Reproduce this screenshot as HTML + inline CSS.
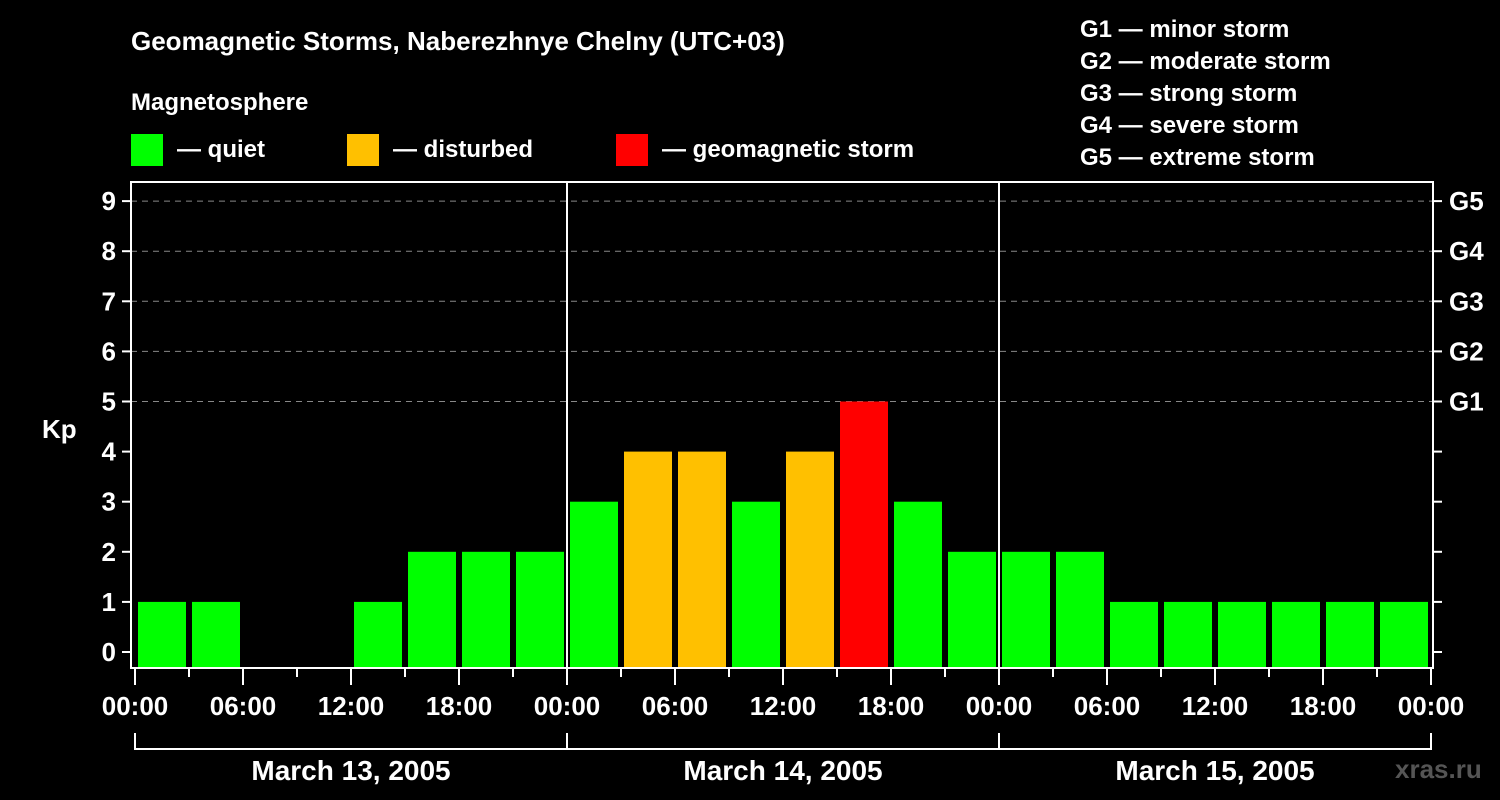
<!DOCTYPE html>
<html><head><meta charset="utf-8"><style>
html,body{margin:0;padding:0;background:#000;}
svg{display:block;font-family:"Liberation Sans",sans-serif;font-weight:bold;}
</style></head><body>
<svg id="chart" width="1500" height="800" viewBox="0 0 1500 800">
<rect width="1500" height="800" fill="#000"/>
<text x="131" y="50" fill="#fff" font-size="26">Geomagnetic Storms, Naberezhnye Chelny (UTC+03)</text>
<text x="131" y="110" fill="#fff" font-size="24">Magnetosphere</text>
<g><rect x="131" y="134" width="32" height="32" fill="#00ff00"/><text x="177" y="157" fill="#fff" font-size="24">— quiet</text></g>
<g><rect x="347" y="134" width="32" height="32" fill="#ffc000"/><text x="393" y="157" fill="#fff" font-size="24">— disturbed</text></g>
<g><rect x="616" y="134" width="32" height="32" fill="#ff0000"/><text x="662" y="157" fill="#fff" font-size="24">— geomagnetic storm</text></g>
<g fill="#fff" font-size="24">
<text x="1080" y="37">G1 — minor storm</text>
<text x="1080" y="69">G2 — moderate storm</text>
<text x="1080" y="101">G3 — strong storm</text>
<text x="1080" y="133">G4 — severe storm</text>
<text x="1080" y="165">G5 — extreme storm</text>
</g>
<text x="42" y="438" fill="#fff" font-size="26">Kp</text>
<text x="1395" y="778" fill="#555" font-size="26">xras.ru</text>
<g id="grid"></g><g id="bars"></g><g id="axes"></g>
</svg>
<script>
const kpValues=[1,1,0,0,1,2,2,2, 3,4,4,3,4,5,3,2, 2,2,1,1,1,1,1,1];
const dayLabels=["March 13, 2005","March 14, 2005","March 15, 2005"];
const hourLabels=["00:00","06:00","12:00","18:00"];
const yTicks=[0,1,2,3,4,5,6,7,8,9];
const gLabels=["G1","G2","G3","G4","G5"];
const L=131,R=1433,T=182,B=668,X0=135,SLOT=54;
const y=v=>652-v*50.1;
const x=i=>X0+i*SLOT;
const NS="http://www.w3.org/2000/svg";
function mk(tag,attrs,parent){const e=document.createElementNS(NS,tag);for(const k in attrs)e.setAttribute(k,attrs[k]);parent.appendChild(e);return e;}
const grid=document.getElementById('grid'),bars=document.getElementById('bars'),axes=document.getElementById('axes');
yTicks.forEach(v=>{
  if(v>=5){const l=mk('line',{x1:L,x2:R,y1:y(v),y2:y(v),stroke:'#888','stroke-dasharray':'6,5','stroke-width':1},grid);
  
  }
  const t=mk('line',{x1:122,x2:L,y1:y(v),y2:y(v),stroke:'#fff','stroke-width':2},axes);
  
  
  const t2=mk('line',{x1:R,x2:1442,y1:y(v),y2:y(v),stroke:'#fff','stroke-width':2},axes);
  
  
  const tx=mk('text',{x:116,y:y(v)+9,fill:'#fff','font-size':26,'text-anchor':'end'},axes);tx.textContent=v;
  
  
});
gLabels.forEach((g,i)=>{
  const tx=mk('text',{x:1449,y:y(5+i)+9,fill:'#fff','font-size':26},axes);tx.textContent=g;
  
  
});
kpValues.forEach((v,i)=>{
  if(v<=0)return;
  const col=v>=5?'#ff0000':(v>=4?'#ffc000':'#00ff00');
  const r=mk('rect',{x:x(i)+3,y:y(v),width:48,height:B-y(v),fill:col},bars);
  
  
});
[1,2].forEach(d=>{const l=mk('line',{x1:x(d*8),x2:x(d*8),y1:T,y2:B,stroke:'#fff','stroke-width':2},axes);
  
  });
const frame=mk('rect',{x:L,y:T,width:R-L,height:B-T,fill:'none',stroke:'#fff','stroke-width':2},axes);


for(let i=0;i<=kpValues.length;i++){
  const major=i%2===0;
  const t=mk('line',{x1:x(i),x2:x(i),y1:B,y2:major?685:677,stroke:'#fff','stroke-width':2},axes);
  
  
  if(major){const tx=mk('text',{x:x(i),y:715,fill:'#fff','font-size':26,'text-anchor':'middle'},axes);
    tx.textContent=hourLabels[(i/2)%4];
    
    }
}
dayLabels.forEach((d,k)=>{
  const x1=x(k*8),x2=x((k+1)*8);
  const p=mk('path',{d:`M${x1},733V749H${x2}V733`,stroke:'#fff','stroke-width':2,fill:'none'},axes);
  
  
  const tx=mk('text',{x:(x1+x2)/2,y:780,fill:'#fff','font-size':28,'text-anchor':'middle'},axes);tx.textContent=d;
  
  
});
</script>
</body></html>
